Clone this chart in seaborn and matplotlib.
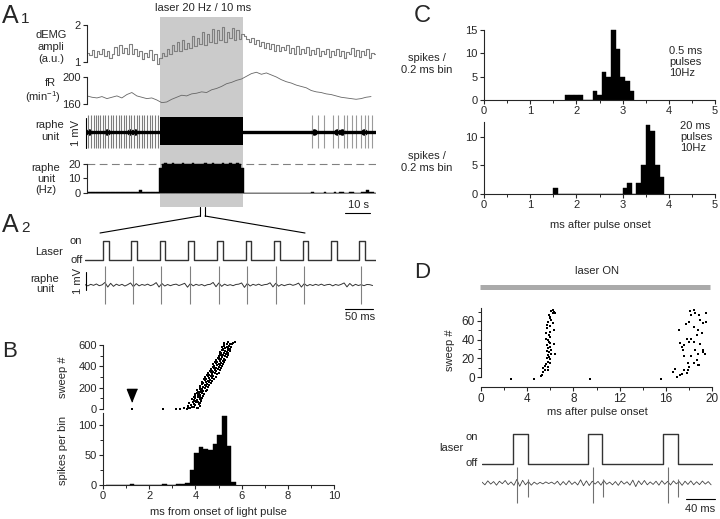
import numpy as np
import seaborn as sns
import matplotlib.pyplot as plt
from matplotlib.lines import Line2D
from matplotlib.ticker import MultipleLocator

# ---------------- A1 (time in s) ----------------
laser_on, laser_off = 29.2, 62.8
demg = [1.25, 1.18, 1.32, 1.12, 1.28, 1.20, 1.35, 1.15, 1.30, 1.10, 1.22, 1.40, 1.18, 1.45, 1.25,
        1.38, 1.20, 1.48, 1.22, 1.35, 1.15, 1.30, 1.08, 1.25, 1.12, 1.32, 1.05, 1.20, 0.95,
        1.10, 1.25, 1.15, 1.35, 1.22, 1.45, 1.30, 1.55, 1.28, 1.60, 1.35, 1.50, 1.38, 1.70, 1.42,
        1.65, 1.48, 1.80, 1.45, 1.75, 1.55, 1.90, 1.50, 1.85, 1.60, 1.95, 1.55, 1.80, 1.65, 1.92,
        1.58, 1.85, 1.62, 1.75,
        1.70, 1.62, 1.55, 1.65, 1.48, 1.58, 1.42, 1.55, 1.38, 1.50, 1.35, 1.48, 1.30, 1.45, 1.28,
        1.40, 1.32, 1.46, 1.25, 1.38, 1.22, 1.42, 1.20, 1.35, 1.25, 1.40, 1.18, 1.32, 1.22, 1.36,
        1.15, 1.30, 1.20, 1.34, 1.12, 1.28, 1.18, 1.35, 1.15, 1.30, 1.10, 1.26, 1.20, 1.38, 1.15,
        1.32, 1.12, 1.28, 1.18, 1.35, 1.10, 1.25, 1.20]
fr = [172, 170, 169, 171, 168, 170, 172, 169, 174, 177, 172, 170, 168, 169, 166, 162, 163, 167,
      170, 173, 172, 175, 176, 178, 177, 181, 183, 186, 190, 192, 195, 197, 201, 205, 207, 204,
      206, 203, 200, 196, 193, 191, 188, 186, 184, 180, 178, 177, 175, 174, 172, 170, 169, 168,
      167, 168, 170, 171]
fr_dt = 2
pre_spikes = [0.5, 1.6, 2.8, 3.5, 4.3, 5.4, 6.5, 7.3, 8.4, 9.5, 10.4, 11.6, 12.8, 13.8, 14.7,
              15.8, 16.7, 17.8, 18.8, 19.9, 20.8, 21.9, 22.8, 24.0, 25.1, 26.2, 27.2, 28.3]
post_spikes = [90.5, 92.9, 95.2, 98.8, 100.9, 103.2, 104.3, 106.3, 107.9, 109.9, 111.6, 112.9, 114.5]
blob_times = [0.8, 8.0, 17.2, 19.2, 91.2, 100.4, 102.4, 111.2]
rate_hz = ([1, 1, 1, 1, 1, 1, 1, 1, 1, 1, 1, 1, 1, 1, 1, 1, 1, 1, 1, 1, 1, 2, 1, 1, 1, 1, 1, 1, 1]
           + [17]
           + [20, 21, 20, 20, 21, 20, 20, 20, 21, 20, 20, 20, 21, 20, 20, 20, 20, 21, 20, 20, 21,
              20, 20, 20, 21, 20, 20, 21, 20, 20, 21, 20]
           + [17]
           + [0] * 27
           + [1, 0, 0, 0, 0, 1, 0, 0, 0, 1, 0, 1, 1, 0, 0, 1, 1, 0, 0, 0, 1, 1, 2, 1, 1, 0])

# ---------------- A2 (time in ms) ----------------
a2_pulse_on = [32, 81, 131, 181, 232, 282, 332, 382, 432, 482]
a2_pulse_w = 10
a2_spikes = [35, 84, 134, 184, 235, 285, 335, 385, 485]
a2_dt = 5
a2_noise = [0.02, -0.05, 0.04, -0.02, 0.06, -0.04, 0.01, 0.15, -0.12, 0.10, -0.08, 0.05, -0.03,
            0.04, -0.06, 0.02, 0.12, -0.10, 0.08, -0.05, 0.03, -0.02, 0.05, -0.04, 0.02, 0.14,
            -0.12, 0.09, -0.06, 0.03, -0.04, 0.02, 0.05, -0.03, 0.03, 0.10, -0.13, 0.08, -0.05,
            0.04, -0.02, 0.03, -0.05, 0.02, 0.04, 0.15, -0.10, 0.12, -0.08, 0.05, -0.03, 0.02,
            -0.04, 0.03, 0.05, 0.12, -0.14, 0.09, -0.06, 0.04, -0.02, 0.05, -0.03, 0.02, 0.04,
            0.13, -0.11, 0.10, -0.07, 0.03, -0.04, 0.02, 0.05, -0.02, 0.03, 0.11, -0.12, 0.08,
            -0.05, 0.03, -0.03, 0.04, -0.02, 0.05, -0.03, 0.02, 0.04, -0.05, 0.03, -0.02, 0.04,
            0.12, -0.11, 0.09, -0.06, 0.04, -0.03, 0.02, -0.04, 0.03, 0.02, -0.03]

# ---------------- B ----------------
b_sweep = [2, 5, 8, 11, 14, 18, 22, 26, 31, 36,
           42, 45, 49, 53, 57, 61, 66, 70, 74, 78,
           82, 85, 89, 93, 97, 101, 105, 109, 113, 117,
           121, 125, 129, 133, 137, 141, 145, 149, 153, 157,
           161, 165, 169, 173, 177, 181, 185, 189, 193, 197,
           202, 206, 210, 214, 218, 222, 226, 230, 234, 238,
           241, 245, 249, 253, 257, 261, 265, 269, 273, 277,
           281, 285, 289, 293, 297, 301, 305, 309, 313, 317,
           322, 326, 330, 334, 338, 342, 346, 350, 354, 358,
           361, 365, 369, 373, 377, 381, 385, 389, 393, 397,
           402, 406, 410, 414, 418, 422, 426, 430, 434, 438,
           441, 445, 449, 453, 457, 461, 465, 469, 473, 477,
           482, 486, 490, 494, 498, 502, 506, 510, 514, 518,
           521, 525, 529, 533, 537, 541, 545, 549, 553, 557,
           562, 566, 570, 574, 578, 582, 586, 590, 594, 598,
           601, 605, 609, 613, 617, 621, 625, 629,
           0, 2, 0, 3, 5]
b_latency = [3.62, 4.05, 3.78, 4.12, 3.70, 3.95, 3.84, 4.18, 3.66, 3.99,
             3.80, 4.15, 3.92, 4.22, 3.72, 4.02, 3.88, 4.10, 3.97, 4.25,
             3.92, 4.25, 4.05, 3.85, 4.18, 4.00, 4.30, 3.95, 4.12, 4.22,
             4.00, 4.32, 4.10, 4.22, 3.98, 4.38, 4.15, 4.05, 4.28, 4.20,
             4.12, 4.45, 4.25, 4.35, 4.08, 4.50, 4.30, 4.20, 4.40, 4.18,
             4.22, 4.55, 4.35, 4.48, 4.18, 4.60, 4.40, 4.30, 4.52, 4.28,
             4.35, 4.68, 4.48, 4.60, 4.30, 4.72, 4.55, 4.42, 4.65, 4.38,
             4.48, 4.80, 4.60, 4.72, 4.42, 4.88, 4.66, 4.55, 4.78, 4.50,
             4.60, 4.95, 4.72, 4.85, 4.55, 5.00, 4.78, 4.68, 4.90, 4.62,
             4.72, 5.05, 4.85, 4.98, 4.68, 5.12, 4.90, 4.80, 5.02, 4.75,
             4.82, 5.15, 4.95, 5.08, 4.78, 5.20, 5.00, 4.90, 5.12, 4.86,
             4.92, 5.25, 5.05, 5.18, 4.90, 5.30, 5.10, 5.00, 5.22, 4.96,
             5.02, 5.35, 5.15, 5.28, 5.00, 5.40, 5.20, 5.10, 5.32, 5.06,
             5.10, 5.42, 5.22, 5.35, 5.08, 5.48, 5.28, 5.18, 5.40, 5.14,
             5.18, 5.50, 5.30, 5.42, 5.15, 5.55, 5.35, 5.25, 5.46, 5.22,
             5.25, 5.58, 5.38, 5.50, 5.22, 5.62, 5.42, 5.70,
             1.25, 2.60, 3.15, 3.35, 3.50]
b_arrow = (1.25, 140)
b_bin_left = [1.15, 2.55, 3.15, 3.35, 3.55, 3.75, 3.95, 4.15, 4.35, 4.55, 4.75, 4.95, 5.15, 5.35, 5.55]
b_counts = [1, 1, 1, 2, 3, 25, 54, 63, 60, 58, 69, 84, 115, 65, 5]
b_binw = 0.2

# ---------------- C ----------------
c1_left = [1.75, 1.85, 1.95, 2.05, 2.35, 2.45, 2.55, 2.65, 2.75, 2.85, 2.95, 3.05, 3.15]
c1_counts = [1, 1, 1, 1, 2, 1, 6, 5, 15, 11, 5, 4, 2]
c2_left = [1.5, 3.0, 3.1, 3.3, 3.4, 3.5, 3.6, 3.7, 3.8]
c2_counts = [1, 1, 2, 2, 5, 12, 11, 5, 3]
c_binw = 0.1

# ---------------- D ----------------
d_ms = [2.6, 4.6, 5.2, 5.25, 5.4, 5.35, 5.55, 5.8, 5.8, 5.97, 5.8, 5.7, 6.0, 5.8, 6.1, 6.4, 5.9,
        5.8, 6.0, 5.7, 5.97, 6.3, 5.8, 6.0, 5.6, 5.97, 6.3, 5.7, 6.0, 6.2, 5.8, 6.0, 5.9, 6.2,
        6.1, 6.3, 6.4, 5.5, 5.65, 5.9, 5.75, 6.05, 5.85, 5.65, 5.9, 5.75, 6.1, 5.95, 6.25, 9.4,
        15.6, 16.8, 17.0, 17.2, 17.6, 17.8, 17.95, 18.0, 18.4, 18.2, 18.7, 18.9, 17.6, 17.4,
        17.6, 18.0, 18.2, 18.5, 18.8, 19.2, 19.4, 17.1, 17.75, 18.0, 18.4, 18.8, 19.1, 18.7,
        19.0, 19.25, 19.5, 18.2, 18.5, 18.1, 18.4, 18.9, 19.5, 17.8, 17.2, 18.4, 19.0, 19.25,
        17.95, 18.8, 17.5, 16.6, 17.4]
d_sweep = [-2, -2, 1, 2.5, 5, 10, 7, 7.5, 11, 15, 16, 20, 19, 23.5, 25, 25, 27,
           30.7, 32.5, 34, 36, 35, 39.6, 43, 47, 48.6, 50, 52, 54.6, 57.5, 59, 63, 66, 68,
           71, 70, 68, 12, 14, 21, 28, 29, 37, 41, 45, 56, 61, 64, 72, -2,
           -2, 9, 0, 2, 7, 4, 7.5, 11, 14.6, 22, 18, 13, 22, 32.5,
           34, 38, 41, 29, 25, 27, 25, 50, 57, 59, 54, 50, 47, 45,
           61, 57.5, 59, 66, 68, 71, 71.7, 66, 69, 41, 36, 38, 35, 29,
           14.6, 13, 29, 5, 3]
d_pulse_on = [43, 146, 250]
d_pulse_w = 20
d_spikes = [48.3, 63.4, 152.6, 167.3, 256.0, 270.7]
d_spike_top = [0.9, 0.2, 0.9, 0.2, 0.9, 0.25]
d_spike_bottom = [-1.1, -0.8, -1.1, -0.8, -1.1, -0.8]
d_dt = 4
d_noise = [0.05, -0.10, 0.12, -0.06, 0.08, -0.12, 0.10, -0.04, 0.14, -0.09, 0.06, -0.13, 0.20,
           -0.18, 0.15, -0.10, 0.08, -0.12, 0.05, -0.07, 0.04, -0.05, 0.06, -0.03, 0.05, -0.06,
           0.10, -0.12, 0.08, -0.10, 0.13, -0.08, 0.06, -0.11, 0.18, -0.15, 0.12, -0.14, 0.10,
           -0.06, 0.09, -0.12, 0.14, -0.07, 0.05, -0.10, 0.08, -0.13, 0.11, -0.06, 0.07, -0.12,
           0.16, -0.20, 0.12, -0.09, 0.14, -0.10, 0.06, -0.08, 0.10, -0.12, 0.13, -0.07, 0.09,
           -0.11, 0.12, -0.05, 0.08, -0.13, 0.10, -0.08, 0.12, -0.10, 0.07, -0.09, 0.11, -0.06,
           0.08, -0.10]

sns.set_style('ticks')
plt.rcParams['font.family'] = ['Liberation Sans', 'DejaVu Sans']
plt.rcParams.update({
    'mathtext.default': 'regular',
    'axes.linewidth': 0.8,
    'xtick.major.size': 3, 'ytick.major.size': 3,
    'xtick.minor.size': 2, 'ytick.minor.size': 2,
    'xtick.major.width': 0.8, 'ytick.major.width': 0.8,
    'xtick.minor.width': 0.7, 'ytick.minor.width': 0.7,
    'xtick.labelsize': 8, 'ytick.labelsize': 8,
    'xtick.major.pad': 1.5, 'ytick.major.pad': 1.5,
})

W, H = 720, 519
fig = plt.figure(figsize=(W / 100, H / 100), dpi=100)


def add_ax(x0, y0, x1, y1):
    ax = fig.add_axes([x0 / W, 1 - y1 / H, (x1 - x0) / W, (y1 - y0) / H])
    ax.set_facecolor('none')
    return ax


def ftext(x, y, s, size=8, ha='center', va='center', **kw):
    fig.text(x / W, 1 - y / H, s, fontsize=size, ha=ha, va=va, **kw)


def fline(x0, y0, x1, y1, **kw):
    kw.setdefault('color', 'black')
    kw.setdefault('lw', 0.8)
    fig.add_artist(Line2D([x0 / W, x1 / W], [1 - y0 / H, 1 - y1 / H], **kw))


def only_left(ax):
    sns.despine(ax=ax, bottom=True)
    ax.set_xticks([])


def pulse_trace(onsets, width, t_end):
    xs, ys = [0], [0]
    for on in onsets:
        xs += [on, on, on + width, on + width]
        ys += [0, 1, 1, 0]
    xs.append(t_end)
    ys.append(0)
    return xs, ys


def hist_bars(ax, left, counts, binw, lo, hi):
    centers = np.array(left) + binw / 2
    sns.histplot(x=centers, weights=counts, binwidth=binw, binrange=(lo, hi), ax=ax,
                 color='black', alpha=1, edgecolor='black', linewidth=0.3)
    ax.set_ylabel('')


# ---------- A1 ----------
t_end = len(demg)
ax_shade = add_ax(87, 17, 376, 207)
ax_shade.set_xlim(0, t_end)
ax_shade.axvspan(laser_on, laser_off, color='#cbcbcb', lw=0)
ax_shade.axis('off')

ax_emg = add_ax(87, 20, 376, 66)
sns.lineplot(x=np.arange(t_end) + 0.5, y=demg, ax=ax_emg, color='#808080', lw=0.8,
             drawstyle='steps-mid', estimator=None)
ax_emg.set_xlim(0, t_end)
ax_emg.set_ylim(0.883, 2.136)
only_left(ax_emg)
ax_emg.spines['left'].set_bounds(1, 2)
ax_emg.set_yticks([1, 2])

ax_fr = add_ax(87, 68, 376, 108)
sns.lineplot(x=np.arange(len(fr)) * fr_dt, y=fr, ax=ax_fr, color='#666666', lw=0.6,
             estimator=None)
ax_fr.set_xlim(0, t_end)
ax_fr.set_ylim(154.1, 213.3)
only_left(ax_fr)
ax_fr.spines['left'].set_bounds(160, 200)
ax_fr.set_yticks([160, 200])

ax_unit = add_ax(87, 112, 376, 152)
ax_unit.set_xlim(0, t_end)
ax_unit.set_ylim(-0.714, 0.714)
ax_unit.vlines(pre_spikes, -0.57, 0.6, color='#7d7d7d', lw=0.8)
ax_unit.vlines(post_spikes, -0.57, 0.6, color='#9a9a9a', lw=0.8)
ax_unit.axhline(0, color='black', lw=2.4)
ax_unit.fill_between([laser_on, laser_off], -0.47, 0.52, color='black', lw=0)
sns.scatterplot(x=blob_times, y=[0] * len(blob_times), ax=ax_unit, color='black', s=22,
                linewidth=0)
ax_unit.axis('off')

ax_hz = add_ax(87, 158, 376, 194)
ax_hz.axhline(20, color='#808080', lw=0.8, ls=(0, (7, 4)), zorder=0.5)
ax_hz.axhline(0, color='#a0a0a0', lw=1, zorder=0.5)
sns.histplot(x=np.arange(t_end) + 0.5, weights=rate_hz, binwidth=1, binrange=(0, t_end),
             ax=ax_hz, color='black', alpha=1, edgecolor='black', linewidth=0.3)
ax_hz.set_ylabel('')
ax_hz.set_xlim(0, t_end)
ax_hz.set_ylim(-0.69, 24.1)
only_left(ax_hz)
ax_hz.spines['left'].set_bounds(0, 20)
ax_hz.set_yticks([0, 10, 20])

ftext(2, 23, 'A', size=18, ha='left', va='baseline')
ftext(21, 23, '1', size=11, ha='left', va='baseline')
ftext(203, 8, 'laser 20 Hz / 10 ms')
ftext(51, 47, 'dEMG\nampli\n(a.u.)', linespacing=1.25)
ftext(50, 83, 'fR')
ftext(43, 97, '(min$^{-1}$)')
ftext(50, 131, 'raphe\nunit', linespacing=1.25)
ftext(76, 133, '1 mV', rotation=90)
fline(86, 118, 86, 148)
ftext(46, 179, 'raphe\nunit\n(Hz)', linespacing=1.1)
fline(345, 213, 370, 213)
ftext(358, 205, '10 s')

# bracket to A2
fline(200, 207, 200, 216)
fline(205, 207, 205, 216)
fline(200, 216, 100, 233)
fline(205, 216, 305, 233)

# ---------- A2 ----------
a2_end = 511
ax_a2l = add_ax(85, 236, 376, 262)
xs, ys = pulse_trace(a2_pulse_on, a2_pulse_w, a2_end)
sns.lineplot(x=xs, y=ys, ax=ax_a2l, color='#333333', lw=1.0, sort=False, estimator=None)
ax_a2l.set_xlim(0, a2_end)
ax_a2l.set_ylim(-0.105, 1.26)
ax_a2l.axis('off')

ax_a2u = add_ax(85, 258, 376, 306)
sns.lineplot(x=np.arange(len(a2_noise)) * a2_dt, y=a2_noise, ax=ax_a2u, color='#333333',
             lw=0.7, estimator=None)
ax_a2u.vlines(a2_spikes, -1.1, 1.1, color='#808080', lw=0.8)
ax_a2u.set_xlim(0, a2_end)
ax_a2u.set_ylim(-1.235, 1.588)
ax_a2u.axis('off')

ftext(2, 232, 'A', size=18, ha='left', va='baseline')
ftext(21, 232, '2', size=11, ha='left', va='baseline')
ftext(76, 241, 'on')
ftext(77, 260, 'off')
ftext(49, 252, 'Laser')
ftext(45, 284, 'raphe\nunit', linespacing=1.1)
ftext(78, 281, '1 mV', rotation=90)
fline(86, 272, 86, 290)
fline(345, 309, 373, 309)
ftext(360, 317, '50 ms')

# ---------- B ----------
ax_br = add_ax(103, 340, 334, 411)
sns.scatterplot(x=b_latency, y=b_sweep, ax=ax_br, color='black', s=3.5, marker='s',
                linewidth=0)
ax_br.plot(*b_arrow, marker=[(0, -1.5), (-1, 1), (1, 1)], color='black', ms=11)
ax_br.set_xlim(0, 10)
ax_br.set_ylim(-18.75, 647)
only_left(ax_br)
ax_br.spines['left'].set_bounds(0, 600)
ax_br.set_yticks([0, 200, 400, 600])
ax_br.yaxis.set_minor_locator(MultipleLocator(100))

ax_bh = add_ax(103, 413, 334, 485)
hist_bars(ax_bh, b_bin_left, b_counts, b_binw, 0.15, 5.75)
ax_bh.set_xlim(0, 10)
ax_bh.set_ylim(0, 120)
sns.despine(ax=ax_bh)
ax_bh.set_xticks(range(0, 11, 2))
ax_bh.xaxis.set_minor_locator(MultipleLocator(1))
ax_bh.set_yticks([0, 50, 100])
ax_bh.yaxis.set_minor_locator(MultipleLocator(25))

ftext(2, 357, 'B', size=16, ha='left', va='baseline')
ftext(63, 377, 'sweep #', rotation=90)
ftext(63, 450, 'spikes per bin', rotation=90)
ftext(218, 512, 'ms from onset of light pulse')

# ---------- C ----------
for ax_box, left, counts, top, ticks in [((484, 25, 715, 100), c1_left, c1_counts, 16.07, [0, 5, 10, 15]),
                                         ((484, 121.7, 715, 194), c2_left, c2_counts, 12.6, [0, 5, 10])]:
    ax = add_ax(*ax_box)
    lo = left[0]
    hi = left[-1] + c_binw
    hist_bars(ax, left, counts, c_binw, lo, hi)
    ax.set_xlim(0, 5)
    ax.set_ylim(0, top)
    sns.despine(ax=ax)
    ax.spines['left'].set_bounds(0, ticks[-1] if top > 15 else top)
    ax.set_xticks(range(0, 6))
    ax.xaxis.set_minor_locator(MultipleLocator(0.5))
    ax.set_yticks(ticks)

ftext(414, 22, 'C', size=17, ha='left', va='baseline')
ftext(427, 64, 'spikes /\n0.2 ms bin', linespacing=1.15)
ftext(427, 162, 'spikes /\n0.2 ms bin', linespacing=1.15)
ftext(669, 62, '0.5 ms\npulses\n10Hz', ha='left', linespacing=1.15)
ftext(680, 137, '20 ms\npulses\n10Hz', ha='left', linespacing=1.15)
ftext(600, 225, 'ms after pulse onset')

# ---------- D ----------
ftext(414, 278, 'D', size=16, ha='left', va='baseline')
ftext(597, 271, 'laser ON')
fline(480, 287, 710, 287, color='#aaaaaa', lw=3.6, solid_capstyle='butt')

ax_dr = add_ax(481, 306, 712, 380)
sns.scatterplot(x=d_ms, y=d_sweep, ax=ax_dr, color='black', s=4, marker='s', linewidth=0)
ax_dr.set_xlim(0, 20)
ax_dr.set_ylim(-3.2, 76)
sns.despine(ax=ax_dr)
ax_dr.spines['bottom'].set_position(('outward', 5))
ax_dr.spines['left'].set_bounds(0, 74)
ax_dr.set_xticks(range(0, 21, 4))
ax_dr.xaxis.set_minor_locator(MultipleLocator(2))
ax_dr.set_yticks([0, 20, 40, 60])
ax_dr.yaxis.set_minor_locator(MultipleLocator(10))
for lab in ax_dr.get_xticklabels() + ax_dr.get_yticklabels():
    lab.set_fontsize(8.5)
ftext(450, 350, 'sweep #', rotation=90)
ftext(597, 412, 'ms after pulse onset')

d_end = 318.6
ax_dl = add_ax(482, 430, 713, 468)
xs, ys = pulse_trace(d_pulse_on, d_pulse_w, d_end)
sns.lineplot(x=xs, y=ys, ax=ax_dl, color='#333333', lw=1.0, sort=False, estimator=None)
ax_dl.set_xlim(0, d_end)
ax_dl.set_ylim(-0.133, 1.133)
ax_dl.axis('off')

ax_du = add_ax(482, 466, 713, 505)
sns.lineplot(x=np.arange(len(d_noise)) * d_dt, y=d_noise, ax=ax_du, color='#444444', lw=0.6,
             estimator=None)
ax_du.vlines(d_spikes, d_spike_bottom, d_spike_top, color='#707070', lw=0.8)
ax_du.set_xlim(0, d_end)
ax_du.set_ylim(-1.22, 0.944)
ax_du.axis('off')

ftext(472, 437, 'on')
ftext(451, 448, 'laser')
ftext(472, 463, 'off')
fline(686, 499, 715, 499)
ftext(700, 509, '40 ms')

fig.savefig('out.png', dpi=100)
